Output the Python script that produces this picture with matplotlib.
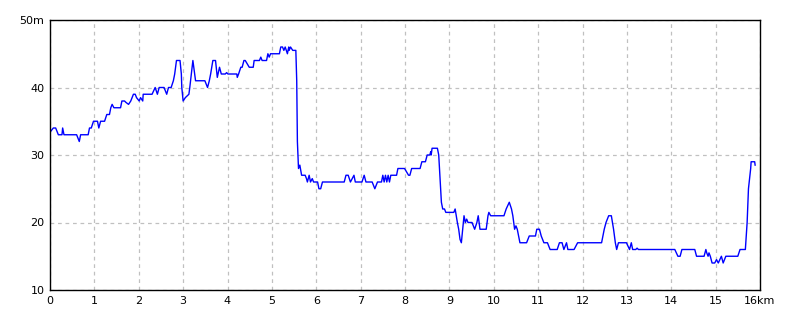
import matplotlib
matplotlib.use('Agg')
import matplotlib.pyplot as plt

# distance (km) and elevation (m)
dist_km = [0.0, 0.015, 0.075, 0.128, 0.188, 0.27, 0.285, 0.315, 0.60, 0.66, 0.69, 0.86, 0.89, 0.93,
           0.98, 1.07, 1.10, 1.14, 1.23, 1.28, 1.34, 1.37, 1.40, 1.44, 1.59, 1.62, 1.68, 1.71, 1.77,
           1.82, 1.88, 1.92, 1.95, 2.01, 2.04, 2.09, 2.10, 2.30, 2.37, 2.42, 2.46, 2.57, 2.63, 2.67,
           2.73, 2.78, 2.81, 2.85, 2.93, 2.96, 2.97, 3.00, 3.05, 3.13, 3.15, 3.22, 3.26, 3.28, 3.49,
           3.55, 3.59, 3.62, 3.67, 3.73, 3.76, 3.77, 3.82, 3.86, 3.95, 3.98, 4.01, 4.21, 4.22, 4.25,
           4.30, 4.33, 4.37, 4.40, 4.49, 4.58, 4.60, 4.72, 4.75, 4.78, 4.88, 4.91, 4.94, 4.97, 5.17,
           5.20, 5.24, 5.27, 5.30, 5.35, 5.38, 5.39, 5.42, 5.47, 5.54, 5.56, 5.575, 5.60, 5.63, 5.67,
           5.75, 5.78, 5.80, 5.84, 5.87, 5.91, 5.94, 6.03, 6.06, 6.10, 6.14, 6.63, 6.67, 6.72, 6.77,
           6.85, 6.88, 7.03, 7.08, 7.12, 7.26, 7.32, 7.38, 7.47, 7.50, 7.53, 7.56, 7.59, 7.62, 7.65,
           7.68, 7.81, 7.84, 7.99, 8.08, 8.11, 8.15, 8.34, 8.38, 8.46, 8.50, 8.56, 8.58, 8.59, 8.61,
           8.73, 8.76, 8.82, 8.85, 8.89, 8.92, 9.10, 9.13, 9.18, 9.21, 9.24, 9.27, 9.30, 9.33, 9.36,
           9.39, 9.42, 9.51, 9.57, 9.62, 9.65, 9.69, 9.83, 9.87, 9.89, 9.93, 10.23, 10.28, 10.35,
           10.40, 10.43, 10.47, 10.50, 10.53, 10.59, 10.74, 10.80, 10.94, 10.97, 11.03, 11.07, 11.13,
           11.21, 11.27, 11.43, 11.48, 11.54, 11.58, 11.64, 11.67, 11.81, 11.89, 12.43, 12.49, 12.53,
           12.59, 12.65, 12.70, 12.74, 12.77, 12.81, 12.99, 13.06, 13.10, 13.13, 13.20, 13.23, 13.26,
           14.08, 14.15, 14.20, 14.24, 14.53, 14.57, 14.74, 14.78, 14.80, 14.83, 14.85, 14.88, 14.92,
           14.98, 15.02, 15.06, 15.13, 15.17, 15.23, 15.50, 15.55, 15.67, 15.71, 15.74, 15.79, 15.80,
           15.88, 15.89]
elev_m = [33.5, 33.5, 34, 34, 33, 33, 34, 33, 33, 32, 33, 33, 34, 34,
          35, 35, 34, 35, 35, 36, 36, 37, 37.5, 37, 37, 38, 38, 37.8, 37.5,
          38, 39, 39, 38.5, 38, 38.5, 38, 39, 39, 40, 39, 40, 40, 39, 40,
          40, 41, 42, 44, 44, 42, 40, 38, 38.5, 39, 40, 44, 42, 41, 41,
          40, 41, 42, 44, 44, 42, 41.5, 43, 42, 42, 42.2, 42, 42, 41.5, 42,
          43, 43, 44, 44, 43, 43, 44, 44, 44.5, 44, 44, 45, 44.5, 45, 45,
          46, 46, 45.5, 46, 45, 46, 45.5, 46, 45.5, 45.5, 41, 32, 28, 28.5, 27,
          27, 26.5, 26, 27, 26, 26.5, 26, 26, 25, 25, 26, 26, 27, 27, 26,
          27, 26, 26, 27, 26, 26, 25, 26, 26, 27, 26, 27, 26, 27, 26,
          27, 27, 28, 28, 27, 27, 28, 28, 29, 29, 30, 30, 30.5, 30, 31,
          31, 30, 23, 22, 22, 21.5, 21.5, 22, 20, 19, 17.5, 17, 19, 21, 20,
          20.5, 20, 20, 19, 20, 21, 19, 19, 21, 21.5, 21, 21, 22, 23,
          22, 21, 19, 19.5, 19, 17, 17, 18, 18, 19, 19, 18, 17,
          17, 16, 16, 17, 17, 16, 17, 16, 16, 17, 17, 19, 20,
          21, 21, 19, 17, 16, 17, 17, 16, 17, 16, 16, 16.2, 16,
          16, 15, 15, 16, 16, 15, 15, 16, 15.5, 15, 15.5, 15, 14,
          14, 14.5, 14, 15, 14, 15, 15, 16, 16, 20, 25, 28, 29,
          29, 28.5]

x_ticks = list(range(0, 17))
x_labels = [str(v) for v in range(0, 16)] + ['16km']
y_ticks = [10, 20, 30, 40, 50]
y_labels = ['10', '20', '30', '40', '50m']

plt.rcParams['font.family'] = ['DejaVu Sans']

fig = plt.figure(figsize=(8, 3.2), dpi=100)
ax = fig.add_axes([0.0625, 0.09375, 0.8875, 0.84375])

ax.plot(dist_km, elev_m, color='#0000ff', lw=1)

ax.set_xlim(0, 16)
ax.set_ylim(10, 50)
ax.set_xticks(x_ticks)
ax.set_xticklabels(x_labels)
ax.set_yticks(y_ticks)
ax.set_yticklabels(y_labels)
ax.tick_params(length=0, labelsize=8, pad=4)
ax.grid(True, color='#c0c0c0', linestyle=(0, (3, 3)), lw=0.9)
for s in ax.spines.values():
    s.set_color('black')
    s.set_linewidth(1)

fig.savefig('out.png', dpi=100)
